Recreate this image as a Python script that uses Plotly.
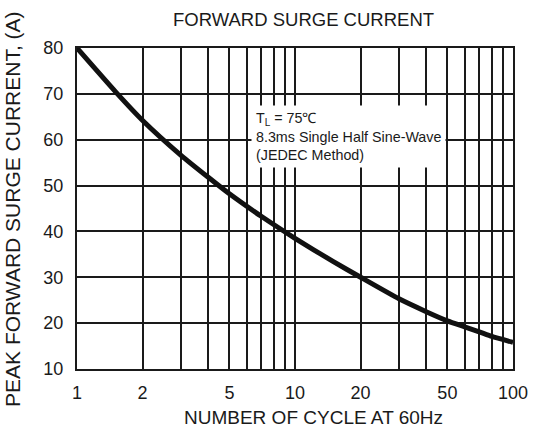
import plotly.graph_objects as go

# Data
cycles = [1, 1.5, 2, 3, 4, 5, 7, 10, 15, 20, 30, 40, 50, 60, 70, 80, 100]
current = [80, 70.5, 64.2, 56.6, 51.8, 48.2, 43.3, 38.5, 33.4, 30, 25.3, 22.5, 20.5, 19.2, 18.1, 17.1, 15.8]

x_tickvals = [1, 2, 3, 4, 5, 6, 7, 8, 9, 10, 20, 30, 40, 50, 60, 70, 80, 90, 100]
x_ticktext = ["1", "2", "", "", "5", "", "", "", "", "10", "20", "", "", "50", "", "", "", "", "100"]
y_tickvals = [10, 20, 30, 40, 50, 60, 70, 80]

title_text = "FORWARD SURGE CURRENT"
x_title = "NUMBER OF CYCLE AT 60Hz"
y_title = "PEAK FORWARD SURGE CURRENT, (A)"
note_text = "T<sub>L</sub> = 75℃<br>8.3ms Single Half Sine-Wave<br>(JEDEC Method)"

FONT = "Liberation Sans, Arial, sans-serif"

fig = go.Figure()
fig.add_trace(go.Scatter(
    x=cycles, y=current, mode="lines",
    line=dict(color="#111111", width=5, shape="spline", smoothing=0.5),
    showlegend=False, hoverinfo="skip",
))

fig.update_layout(
    width=540, height=435,
    margin=dict(l=77, r=24, t=48, b=66),
    paper_bgcolor="white", plot_bgcolor="white",
    font=dict(family=FONT, color="#1a1a1a", size=18),
    showlegend=False,
)

fig.update_xaxes(
    type="log", range=[0, 2],
    tickmode="array", tickvals=x_tickvals, ticktext=x_ticktext,
    showgrid=True, gridcolor="#1a1a1a", gridwidth=2,
    showline=True, linecolor="#1a1a1a", linewidth=2, mirror=True,
    ticks="", tickfont=dict(size=18), ticklabelstandoff=6,
    zeroline=False,
)
fig.update_yaxes(
    range=[10, 80],
    tickmode="array", tickvals=y_tickvals,
    showgrid=True, gridcolor="#1a1a1a", gridwidth=2,
    showline=True, linecolor="#1a1a1a", linewidth=2, mirror=True,
    ticks="", tickfont=dict(size=18), ticklabelstandoff=8,
    zeroline=False,
)

annotations = [
    dict(text=title_text, xref="paper", yref="paper", x=0.519, y=1.09,
         xanchor="center", yanchor="middle", showarrow=False,
         font=dict(size=18.5)),
    dict(text=x_title, xref="paper", yref="paper", x=0.543, y=-0.15,
         xanchor="center", yanchor="middle", showarrow=False,
         font=dict(size=19)),
    dict(text=y_title, xref="paper", yref="paper", x=-0.148, y=0.5,
         xanchor="center", yanchor="middle", showarrow=False, textangle=-90,
         font=dict(size=21)),
    dict(text=note_text, xref="paper", yref="paper", x=0.3986, y=0.822,
         xanchor="left", yanchor="top", align="left", showarrow=False,
         bgcolor="white", borderpad=4, font=dict(size=14.3)),
]
fig.update_layout(annotations=annotations)

fig.write_html("out.html", config={"displayModeBar": False},
               post_script="document.body.style.margin='0';")
